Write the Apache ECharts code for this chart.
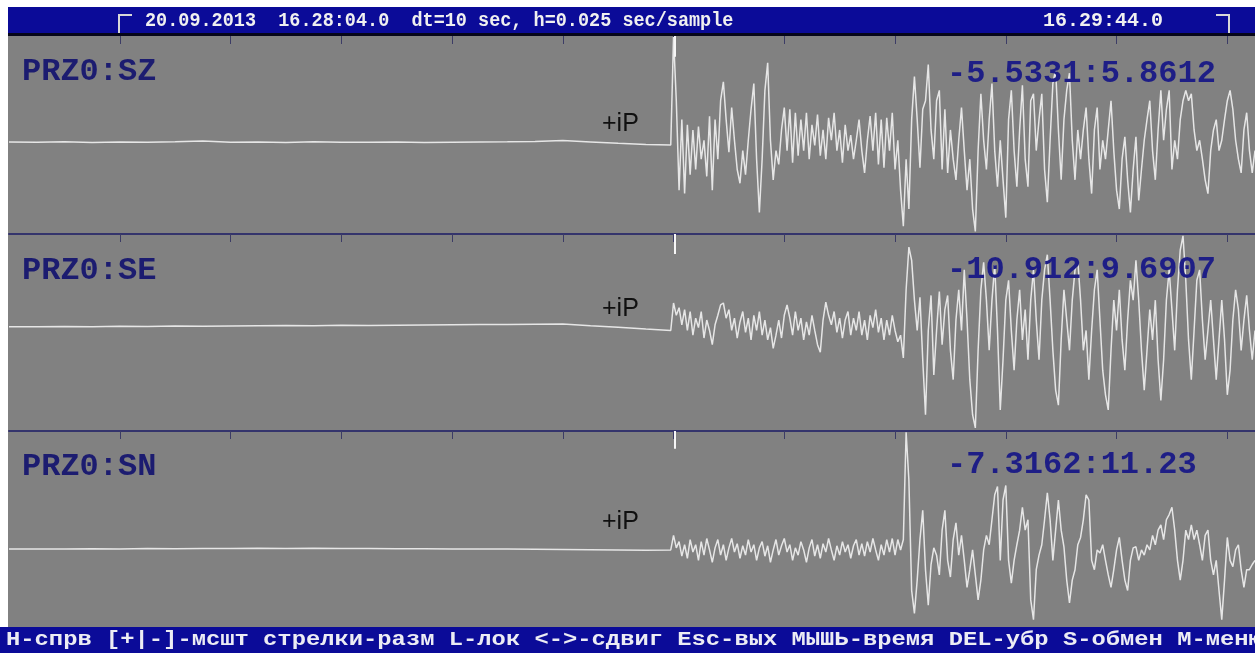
<!DOCTYPE html>
<html><head><meta charset="utf-8">
<script src="https://cdn.jsdelivr.net/npm/echarts@6/dist/echarts.min.js"></script>
<style>html,body{margin:0;padding:0;background:#fff;}#c{width:1255px;height:653px;}</style>
</head><body><div id="c"></div>
<script>
// ---- data ----
const CHANNELS = ['PRZ0:SZ', 'PRZ0:SE', 'PRZ0:SN'];
const RANGE_LABELS = ['-5.5331:5.8612', '-10.912:9.6907', '-7.3162:11.23'];
const Y_MIN = [-5.5331, -10.912, -7.3162];
const Y_MAX = [5.8612, 9.6907, 11.23];
const TICK_SECONDS = [0, 10, 20, 30, 40, 50, 60, 70, 80, 90, 100];
const T_P = 50.1;              // +iP pick, seconds after 16:28:04.0
const QUIET_T0 = -10, QUIET_STEP = 2.5;
const ACTIVE_T0 = 49.75, ACTIVE_STEP = 0.25;

const SZ_QUIET = [-0.30,-0.32,-0.28,-0.33,-0.30,-0.31,-0.29,-0.25,-0.32,-0.30,-0.33,-0.29,-0.31,-0.32,-0.30,-0.33,-0.31,-0.30,-0.29,-0.27,-0.22,-0.30,-0.38,-0.44];
const SE_QUIET = [-0.10,-0.12,-0.08,-0.10,-0.06,-0.08,-0.04,-0.06,-0.02,0.00,0.02,0.00,0.04,0.02,0.06,0.08,0.10,0.12,0.14,0.16,0.18,0.00,-0.15,-0.35];
const SN_QUIET = [-0.10,-0.12,-0.10,-0.08,-0.10,-0.06,-0.08,-0.05,-0.06,-0.04,-0.05,-0.03,-0.05,-0.06,-0.08,-0.08,-0.10,-0.12,-0.12,-0.14,-0.16,-0.18,-0.20,-0.22];

const SZ_ACTIVE = [
-0.47,5.8,2.1,-3.1,1.0,-3.3,0.7,-2.2,0.4,-1.9,
0.6,-1.3,-0.2,-2.3,1.2,-3.1,1.0,-1.3,2.1,3.2,
1.0,-0.9,1.7,-0.2,-1.9,-2.7,-0.8,-2.2,-0.2,1.6,
3.1,-1.3,-4.4,-1.3,2.7,4.3,-0.2,-2.5,-0.8,-1.6,
0.4,1.7,-0.8,1.6,-1.5,1.4,-1.1,1.0,-0.8,1.4,
-1.3,0.7,-0.5,1.3,-1.1,0.4,-1.3,1.1,-0.2,1.4,
-0.8,0.4,-1.5,0.7,-0.8,0.1,-1.3,-0.2,1.0,-0.8,
-2.1,-0.2,1.2,-0.8,1.4,-1.6,1.0,-1.8,1.1,-0.8,
1.4,-1.9,-0.2,-3.1,-5.2,-1.3,-4.2,1.0,3.5,1.0,
-1.8,1.6,2.1,4.2,0.4,-1.3,2.1,2.7,-1.9,1.6,
-2.1,0.4,-1.3,-2.5,-0.2,1.7,-0.8,-3.1,-1.3,-4.2,
-5.5,-0.8,2.5,-0.2,-1.9,1.0,3.1,-0.8,-2.9,-0.2,
-2.5,-4.7,1.0,2.7,-0.8,-2.9,0.4,3.0,-1.3,-2.9,
2.1,2.5,-0.8,1.0,2.5,-1.9,-3.8,-0.2,3.1,3.9,
0.4,-2.5,1.0,2.7,3.7,-0.2,-2.5,0.4,-1.3,0.4,
1.7,-1.3,-3.3,0.4,1.7,-1.9,-0.2,-1.3,0.4,2.1,
-0.8,-3.1,-4.2,-1.3,0.0,-2.5,-4.4,-1.9,0.0,-3.7,
-1.9,-0.2,1.0,2.1,-0.8,-2.5,0.4,2.7,-0.2,1.6,
2.7,-1.9,-0.2,-1.3,1.0,2.1,2.7,2.1,2.5,0.4,
-0.8,-0.2,-1.3,-2.5,-3.3,-0.8,0.4,1.0,-0.8,-0.2,
1.0,2.1,2.7,1.6,-0.2,-1.3,-2.1,0.4,1.4,-0.8,
-2.1,-0.8];

const SE_ACTIVE = [
-0.5,2.4,1.1,1.9,0.1,1.7,-0.5,1.5,-1.0,0.8,
-0.2,1.5,-1.3,0.6,-0.5,-2.0,0.1,1.1,2.2,2.4,
0.8,1.7,-0.5,0.8,-1.3,0.4,1.5,-0.7,0.8,-1.5,
1.1,-0.5,1.5,-1.0,0.6,-1.5,-0.2,-2.4,-1.0,0.6,
-1.3,1.1,2.2,0.8,-1.0,1.5,-0.5,0.8,-1.5,0.4,
-1.0,1.1,-0.5,-2.0,-2.8,0.6,2.5,1.1,0.1,1.5,
-0.7,0.8,-1.3,0.6,1.5,-1.0,0.8,-0.5,1.5,-1.0,
0.6,-1.5,1.1,-0.2,1.7,-0.7,0.8,-1.5,0.6,-1.0,
1.1,-0.5,-1.7,-1.0,-3.4,3.8,8.3,6.9,2.7,-0.5,
3.0,-3.6,-9.4,-0.5,3.2,-5.2,-0.5,3.6,-2.0,1.7,
3.2,-2.6,-5.7,0.6,3.8,-0.5,5.9,0.6,-5.7,-9.4,
-10.8,-2.6,3.8,6.7,2.7,-2.6,2.7,6.4,-0.5,-8.9,
-3.6,2.7,4.8,-0.5,-4.7,0.6,3.8,-1.5,1.7,-3.6,
2.7,5.9,0.6,-3.6,2.7,5.9,7.5,2.7,-2.6,-6.8,
-8.4,-1.5,3.8,0.6,-2.6,2.7,5.9,6.9,2.7,-2.6,
-0.5,-5.7,-0.5,3.8,5.9,0.6,-4.7,-7.3,-8.9,-2.6,
2.7,-0.5,3.8,-1.5,-4.7,0.6,4.8,2.7,6.9,2.7,
-2.6,-6.8,-2.6,1.7,-1.5,2.7,-3.6,-7.9,-3.6,2.7,
5.9,1.7,-2.6,3.8,8.0,9.5,4.8,-1.5,-5.7,-0.5,
4.8,5.9,0.6,-3.6,-0.5,2.7,-1.5,-5.7,-1.5,2.7,
-1.5,-7.3,-4.7,0.6,3.8,1.7,-2.6,0.6,3.2,-0.5,
-3.6,-0.5];

const SN_ACTIVE = [
-0.2,1.2,0.0,0.6,-0.8,0.3,-1.0,0.8,-0.4,0.3,
-1.2,0.6,-0.7,0.9,-0.2,-1.4,0.0,0.8,-0.7,0.3,
-1.2,0.0,0.9,-0.4,0.4,-1.0,0.2,-0.7,0.8,-0.4,
0.3,-1.2,0.0,0.6,-0.8,0.2,-1.4,-0.2,0.8,-0.7,
0.2,0.9,-0.4,0.3,-1.2,0.0,-0.7,0.6,-0.2,-1.4,
0.0,0.8,-0.8,0.3,-1.0,0.4,-0.4,0.9,-0.2,-1.2,
0.2,-0.7,0.6,-0.4,0.3,-1.0,0.2,0.8,-0.7,0.4,
-0.8,0.6,-0.4,0.9,-0.2,-1.2,0.3,-0.7,0.8,-0.4,
0.9,-0.7,0.8,-0.2,0.8,11.1,6.5,-4.1,-6.3,-3.1,
0.8,3.6,-2.1,-5.5,-1.6,0.0,-0.7,-2.6,1.7,3.6,
-1.2,-2.8,0.8,2.4,-0.7,1.2,-1.2,-3.8,-2.1,-0.2,
-2.6,-5.0,-3.1,-0.2,1.2,0.3,2.7,5.1,5.9,-1.2,
4.6,6.0,-1.2,-3.4,-1.2,0.3,1.7,3.9,1.7,2.7,
-5.0,-6.9,-2.1,-0.7,0.3,2.7,5.3,2.7,-1.2,1.7,
4.6,1.7,0.1,-3.1,-5.3,-3.1,-2.1,0.3,1.0,2.7,
5.1,4.6,-1.2,-2.1,-0.2,-0.5,0.3,-1.2,-2.6,-3.8,
-2.1,-0.2,1.0,-1.2,-3.1,-4.1,-1.2,0.0,0.1,-1.2,
-0.2,-0.7,0.3,-0.2,1.2,0.3,1.7,2.2,0.8,2.7,
3.2,3.9,1.7,-1.2,-3.1,-1.2,1.7,0.8,2.2,0.8,
1.7,0.3,-1.2,1.2,1.7,-1.2,-2.6,-1.2,-4.1,-6.9,
-3.1,1.0,-1.2,-1.8,-0.2,0.3,-2.1,-3.8,-2.1,-2.1,
-1.6,-1.2];

const QUIET = [SZ_QUIET, SE_QUIET, SN_QUIET];
const ACTIVE = [SZ_ACTIVE, SE_ACTIVE, SN_ACTIVE];
const HEADER = '20.09.2013  16.28:04.0  dt=10 sec, h=0.025 sec/sample';
const HEADER_END = '16.29:44.0';
const FOOTER = 'H-спрв [+|-]-мсшт стрелки-разм L-лок <->-сдвиг Esc-вых МЫШЬ-время DEL-убр S-обмен M-меню';

// ---- build ----
function trace(k) {
  const out = [];
  QUIET[k].forEach((v, i) => out.push([QUIET_T0 + QUIET_STEP * i, v]));
  ACTIVE[k].forEach((v, i) => out.push([ACTIVE_T0 + ACTIVE_STEP * i, v]));
  return out;
}
const layout = [{top: 36, height: 196}, {top: 234, height: 195}, {top: 431, height: 193}];
const ipLen = [1.2, 2.1, 1.7];
const labelY = [72, 271, 467];
const rangeY = [74, 270, 465];
const ipY = [124, 309, 522];

const grids = [], xAxes = [], yAxes = [], series = [];
for (let k = 0; k < 3; k++) {
  grids.push({left: 9, width: 1246, top: layout[k].top, height: layout[k].height, containLabel: false});
  xAxes.push({
    type: 'value', gridIndex: k, min: -10, max: 102.5, interval: 10, position: 'top',
    axisLine: {show: k > 0, onZero: false, lineStyle: {color: '#34346c', width: 2}},
    axisTick: {show: true, inside: true, length: 8, customValues: TICK_SECONDS,
               lineStyle: {color: '#3c3c66', width: 1}},
    axisLabel: {show: false}, splitLine: {show: false}
  });
  yAxes.push({type: 'value', gridIndex: k, min: Y_MIN[k], max: Y_MAX[k], show: false});
  series.push({
    type: 'line', xAxisIndex: k, yAxisIndex: k, data: trace(k),
    symbol: 'none', showSymbol: false, animation: false, silent: true,
    lineStyle: {color: '#e6e6e6', width: 1.5},
    markLine: {
      silent: true, symbol: ['none', 'none'], label: {show: false}, animation: false,
      lineStyle: {color: '#f6f6f6', width: 2, type: 'solid'},
      data: [[{coord: [T_P, Y_MAX[k]]}, {coord: [T_P, Y_MAX[k] - ipLen[k]]}]]
    }
  });
}

const g = [
  {type: 'rect', z: 100, shape: {x: 0, y: 0, width: 1255, height: 7}, style: {fill: '#ffffff'}},
  {type: 'rect', z: 100, shape: {x: 0, y: 0, width: 8, height: 627}, style: {fill: '#ffffff'}},
  {type: 'rect', z: 100, shape: {x: 8, y: 7, width: 1247, height: 26}, style: {fill: '#0b0b98'}},
  {type: 'rect', z: 100, shape: {x: 8, y: 33, width: 1247, height: 3}, style: {fill: '#06061a'}},
  {type: 'rect', z: 100, shape: {x: 0, y: 627, width: 1255, height: 26}, style: {fill: '#0b0b98'}},
  {type: 'polyline', z: 101, shape: {points: [[119, 33], [119, 15], [132, 15]]}, style: {stroke: '#d8d8d8', lineWidth: 2, fill: null}},
  {type: 'polyline', z: 101, shape: {points: [[1216, 15], [1229, 15], [1229, 33]]}, style: {stroke: '#d8d8d8', lineWidth: 2, fill: null}},
  {type: 'text', z: 101, x: 145, y: 21, scaleX: 0.925,
   style: {text: HEADER, font: 'bold 20px "Liberation Mono"', fill: '#f0f0f0', align: 'left', verticalAlign: 'middle', textAlign: 'left', textVerticalAlign: 'middle'}},
  {type: 'text', z: 101, x: 1043, y: 21,
   style: {text: HEADER_END, font: 'bold 20px "Liberation Mono"', fill: '#f0f0f0', align: 'left', verticalAlign: 'middle', textAlign: 'left', textVerticalAlign: 'middle'}},
  {type: 'text', z: 101, x: 6, y: 640, scaleX: 1.19,
   style: {text: FOOTER, font: 'bold 20px "Liberation Mono"', fill: '#ececf4', align: 'left', verticalAlign: 'middle', textAlign: 'left', textVerticalAlign: 'middle'}}
];
for (let k = 0; k < 3; k++) {
  g.push({type: 'text', z: 101, x: 22, y: labelY[k],
    style: {text: CHANNELS[k], font: 'bold 32px "Liberation Mono"', fill: '#1c1c70', align: 'left', verticalAlign: 'middle', textAlign: 'left', textVerticalAlign: 'middle'}});
  g.push({type: 'text', z: 101, x: 947, y: rangeY[k],
    style: {text: RANGE_LABELS[k], font: 'bold 32px "Liberation Mono"', fill: '#1e1e86', align: 'left', verticalAlign: 'middle', textAlign: 'left', textVerticalAlign: 'middle'}});
  g.push({type: 'text', z: 101, x: 602, y: ipY[k],
    style: {text: '+iP', font: '25px "Liberation Sans"', fill: '#101010', align: 'left', verticalAlign: 'middle', textAlign: 'left', textVerticalAlign: 'middle'}});
}

const chart = echarts.init(document.getElementById('c'), null, {renderer: 'canvas'});
chart.setOption({
  backgroundColor: '#818181',
  animation: false,
  grid: grids, xAxis: xAxes, yAxis: yAxes, series: series,
  graphic: g
});
</script></body></html>
